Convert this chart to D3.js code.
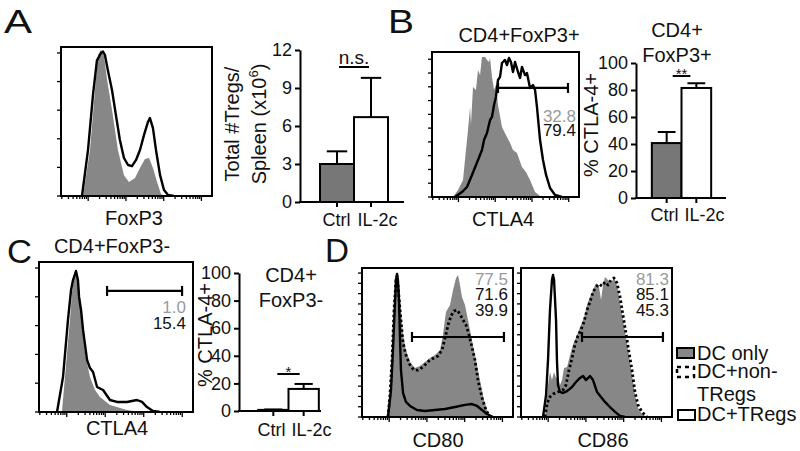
<!DOCTYPE html>
<html><head><meta charset="utf-8">
<script src="https://cdn.jsdelivr.net/npm/d3@7"></script>
<style>
body{margin:0;background:#fff}
svg{display:block}
text{font-family:"Liberation Sans",Arial,Helvetica,sans-serif;fill:#111}
</style>
</head><body><script>
// ---------------- DATA ----------------
const barCats = ["Ctrl", "IL-2c"];
const tregCountVals = [3.0, 6.7];
const tregCountErr = [1.0, 3.1];
const tregCountTicks = [0, 3, 6, 9, 12];
const ctla4PosVals = [40.7, 81.5];
const ctla4PosErr = [8.2, 3.5];
const ctla4NegVals = [0.8, 16.0];
const ctla4NegErr = [0.3, 3.6];
const pctTicks = [0, 20, 40, 60, 80, 100];

// flow histograms: [channel (0-100 of axis), % of max]
const foxp3Ctrl = [[14.6,0],[19.2,30.9],[22.5,71],[24.5,94.6],[26.5,98],[28.5,94],[30.5,78],[33.8,57.7],[37.7,30.9],[41.7,14],[45,9.4],[49,12],[52.3,18.8],[55.6,24.8],[58.3,25.5],[60.9,18.8],[63.6,9.4],[66.2,1.3],[68.9,0]];
const foxp3IL2c = [[13.9,0],[17.9,31],[21.2,68],[23.8,91],[26.5,96],[27.8,97],[29.1,94.6],[31,84.6],[33.8,71],[36.4,54],[39,37.6],[41.7,25.5],[44.4,20.8],[47,20],[49.7,24.2],[52.3,30.9],[55,41],[57.6,49.7],[58.9,52.3],[60.9,45.6],[62.9,30.9],[65.6,14],[68.2,4],[70.9,0.7],[74.8,0]];

const ctla4TregCtrl = [[14.3,0],[17.7,4.8],[21.1,11.7],[23.1,32.4],[24.5,46.2],[25.9,62],[26.5,49.7],[27.9,75.9],[29.9,73.8],[31.3,87.6],[32.7,84.1],[34,96.6],[36.1,96.6],[37.4,94.5],[38.8,93.1],[39.5,95.9],[40.8,82.8],[42.2,73.8],[43.5,77.2],[44.9,63.4],[47.6,48.3],[50.3,42.8],[53.1,37.2],[55.1,32.4],[57.8,30.3],[61.2,20.7],[63.9,17.2],[66.7,11.7],[70.1,3.4],[73.5,0.7],[76.9,0]];
const ctla4TregIL2c = [[15.6,0],[20.4,3.4],[23.8,6.9],[27.2,15.2],[31.3,25.5],[34,32.4],[35.4,39.3],[37.4,44.1],[39.5,53.1],[40.8,55.2],[42.2,63.4],[43.5,69],[44.9,80.7],[46.3,82.8],[47.6,92.4],[49.7,94.5],[51,91],[52.4,95.9],[53.7,93.1],[55.1,86.2],[56.5,93.1],[58.5,86.2],[59.9,82.1],[61.2,89.7],[63.3,84.1],[64.6,85.5],[66.7,75.2],[68.7,77.2],[70.1,73.8],[71.4,62.1],[73.5,39.3],[75.5,25.5],[77.6,15.2],[80.3,6.2],[83.7,1.4],[88.4,0]];

const ctla4ConvCtrl = [[14.9,0],[18.2,39.3],[20.1,61.3],[21.4,79.3],[22.7,89.3],[24,92.7],[25.3,89.3],[26,83.3],[27.9,61.3],[29.9,39.3],[33.1,23.3],[36.4,14.7],[39.6,10],[46.1,4.7],[57.1,1.3],[65.6,0]];
const ctla4ConvIL2c = [[11.7,0],[15.6,23.3],[18.8,61.3],[20.8,81.3],[22.1,88],[24,94],[25.3,88],[26,76.7],[27.3,68],[28.6,54.7],[29.9,44.7],[31.2,34.7],[33.1,29.3],[35.1,26.7],[37.7,16.7],[41.6,14.7],[46.1,8],[50.6,6.7],[57.1,6.7],[63.6,8],[66.9,6.7],[70.1,3.3],[74,0.7],[78.6,0]];

const cd80DCOnly = [[16.6,0],[18.5,18.1],[19.9,38.3],[21.2,71.8],[21.9,83.2],[23.2,94],[24.5,88.6],[25.8,71.8],[27.2,55],[29.1,45],[31.8,36.9],[35.1,32.9],[38.4,34.2],[41.7,36.9],[45,39.6],[48.3,41.6],[51.7,45],[53.6,55],[55.6,70.5],[58.3,75.2],[60.3,85.2],[62.3,93.3],[63.6,95.3],[64.9,88.6],[66.2,80.5],[68.2,75.2],[70.2,65.1],[72.8,51.7],[75.5,38.3],[78.1,24.8],[80.8,11.4],[83.4,2.7],[86.1,0]];
const cd80NonTreg = [[17.2,0],[18.5,14.8],[19.9,38.3],[21.2,71.8],[22.5,91.9],[23.2,94.6],[23.8,88.6],[25.2,71.8],[27.2,49.7],[29.1,41.6],[31.8,34.9],[34.4,31.5],[37.1,31.5],[40.4,33.6],[43,36.2],[45,38.3],[47.7,39.6],[50.3,40.9],[53,45],[55,53],[57,61.7],[58.9,67.8],[60.9,71.1],[62.9,71.8],[64.9,69.1],[66.9,65.1],[68.9,61.7],[70.9,55],[72.8,47],[74.8,38.3],[76.8,24.8],[79.5,12.8],[82.1,4.7],[84.8,0]];
const cd80Treg = [[17.2,0],[19.2,18.1],[20.5,45],[21.9,78.5],[22.5,91.9],[23.2,96],[23.8,91.9],[24.5,78.5],[25.2,51.7],[25.8,31.5],[27.2,16.1],[29.1,10.1],[31.8,7.4],[36.4,4.7],[41.7,4],[48.3,4.7],[55,5.4],[61.6,6.7],[68.2,8.1],[72.8,8.7],[76.2,7.4],[79.5,4.7],[82.8,2],[86.8,0]];

const cd86DCOnly = [[15.9,0],[17.9,21.5],[19.2,30.2],[20.5,24.8],[21.9,30.2],[23.2,26.2],[24.5,26.8],[25.8,21.5],[27.2,24.8],[28.5,32.9],[30.5,33.6],[32.5,41.6],[34.4,48.3],[37.1,55],[39.1,60.4],[41.7,66.4],[43.7,75.2],[45.7,80.5],[47.7,85.2],[49.7,89.9],[51.7,87.2],[53,78.5],[54.3,88.6],[55.6,94],[57.6,91.9],[59.6,89.9],[61.6,93.3],[62.9,90.6],[64.2,85.2],[65.6,76.5],[67.5,65.1],[69.5,53.7],[71.5,41.6],[73.5,28.2],[75.5,14.8],[77.5,6],[80.1,2],[83.4,0]];
const cd86NonTreg = [[15.9,0],[17.2,8.1],[18.5,12.8],[21.2,15.4],[24.5,16.8],[27.8,18.1],[29.8,21.5],[31.8,31.5],[33.8,39.6],[35.8,49],[37.7,54.4],[39.7,58.4],[41.7,63.8],[43.7,71.8],[45.7,77.2],[47.7,83.9],[49.7,87.2],[51.7,89.3],[53.6,87.9],[55.6,90.6],[57.6,88.6],[59.6,91.9],[61.6,93.3],[63.6,89.9],[65.6,80.5],[67.5,68.5],[69.5,56.4],[71.5,43.6],[73.5,31.5],[75.5,16.8],[77.5,8.1],[80.1,3.4],[83.4,0]];
const cd86Treg = [[14.6,0],[16.6,14.8],[17.9,38.3],[19.2,71.8],[20.5,91.9],[21.2,95.3],[21.9,91.9],[23.2,65.1],[23.8,38.3],[24.5,21.5],[25.8,16.8],[27.8,16.1],[30.5,17.4],[33.8,20.1],[36.4,23.5],[39.1,26.2],[41.1,27.5],[43,24.8],[45.7,27.5],[47.7,24.8],[50.3,16.8],[53,13.4],[55.6,10.1],[58.9,6.7],[62.3,3.4],[65.6,0.7],[68.9,0]];

// gates: [start, end, level]
const gateB = [44.9, 92.5, 75.2];
const gateC = [44.2, 92.9, 80.7];
const gateCD80 = [33.1, 94, 53.7];
const gateCD86 = [40.4, 94, 53.7];
// gate percentages
const pctB = ["32.8", "79.4"];
const pctC = ["1.0", "15.4"];
const pctCD80 = ["77.5", "71.6", "39.9"];
const pctCD86 = ["81.3", "85.1", "45.3"];
const legendItems = ["DC only", "DC+non-", "DC+TRegs"];

// axis tick values of flow plots
const yTicks6 = [0, 19.2, 38.4, 57.6, 76.8, 96];
const yTicks11 = [0, 9.5, 19, 28.5, 38, 47.5, 57, 66.5, 76, 85.5, 95];
const yTicks15 = [0, 6.9, 13.8, 20.7, 27.6, 34.5, 41.4, 48.3, 55.2, 62.1, 69, 75.9, 82.8, 89.7, 96.6];
const decadeStarts = [18, 43, 68, 93];
const decadeWidth = 25;

// ---------------- DRAWING ----------------
const GRAY = "#878787", BARGRAY = "#777777", NUMGRAY = "#9a9a9a";
const svg = d3.select("body").append("svg").attr("width", 800).attr("height", 451);
let clipN = 0;

function txt(x, y, s, size, opts = {}) {
  const t = svg.append("text").attr("x", x).attr("y", y).attr("font-size", size).text(s);
  if (opts.anchor) t.attr("text-anchor", opts.anchor);
  if (opts.fill) t.style("fill", opts.fill);
  if (opts.len) t.attr("textLength", opts.len).attr("lengthAdjust", "spacingAndGlyphs");
  return t;
}
function vtxt(x, y, s, size) {
  return svg.append("text").attr("transform", `translate(${x},${y}) rotate(-90)`)
    .attr("text-anchor", "middle").attr("font-size", size).text(s);
}

function flowFrame(f) {
  const x = d3.scaleLinear().domain([0, 100]).range([f.x0, f.x1]);
  const y = d3.scaleLinear().domain([0, 100]).range([f.y1, f.y0]);
  const g = svg.append("g");
  const id = "clip" + (++clipN);
  g.append("clipPath").attr("id", id).append("rect")
    .attr("x", f.x0).attr("y", f.y0).attr("width", f.x1 - f.x0).attr("height", f.y1 - f.y0);
  const inner = g.append("g").attr("clip-path", `url(#${id})`);
  f.series.forEach(s => {
    if (s.kind === "fill") {
      inner.append("path").datum(s.data)
        .attr("d", d3.area().x(d => x(d[0])).y0(y(0)).y1(d => y(d[1])))
        .attr("fill", GRAY);
    } else {
      inner.append("path").datum(s.data)
        .attr("d", d3.line().x(d => x(d[0])).y(d => y(d[1])))
        .attr("fill", "none").attr("stroke", "#000").attr("stroke-width", s.kind === "dot" ? 2.8 : 2.4)
        .attr("stroke-linejoin", "round")
        .attr("stroke-dasharray", s.kind === "dot" ? "2.5,2.5" : null);
    }
  });
  g.append("rect").attr("x", f.x0).attr("y", f.y0).attr("width", f.x1 - f.x0).attr("height", f.y1 - f.y0)
    .attr("fill", "none").attr("stroke", "#000").attr("stroke-width", 2);
  // left ticks
  f.yTicks.forEach(v => g.append("line").attr("x1", f.x0 - 4).attr("x2", f.x0)
    .attr("y1", y(v)).attr("y2", y(v)).attr("stroke", "#000").attr("stroke-width", 1.3));
  // bottom log ticks
  const ticks = [];
  [decadeStarts[0] - decadeWidth, ...decadeStarts].forEach((d, i) => {
    if (i > 0) ticks.push({ v: d, major: true });
    for (let k = 2; k <= 9; k++) ticks.push({ v: d + decadeWidth * Math.log10(k), major: false });
  });
  ticks.filter(t => t.v > 0.5 && t.v < 99.5).forEach(t => g.append("line")
    .attr("x1", x(t.v)).attr("x2", x(t.v)).attr("y1", f.y1).attr("y2", f.y1 + (t.major ? 5 : 3))
    .attr("stroke", "#000").attr("stroke-width", 1.3));
  if (f.gate) {
    const [a, b, l] = f.gate;
    g.append("line").attr("x1", x(a)).attr("x2", x(b)).attr("y1", y(l)).attr("y2", y(l))
      .attr("stroke", "#000").attr("stroke-width", 2.2);
    [a, b].forEach(v => g.append("line").attr("x1", x(v)).attr("x2", x(v))
      .attr("y1", y(l) - 5).attr("y2", y(l) + 5).attr("stroke", "#000").attr("stroke-width", 2.2));
  }
  if (f.nums) {
    f.nums.forEach((n, i) => txt(f.numX, f.numY[i], n, 17, { anchor: "end", fill: i === 0 ? NUMGRAY : "#111" }));
  }
}

function barChart(b) {
  const y = d3.scaleLinear().domain([0, b.max]).range([b.yb, b.yt]);
  const x = d3.scaleBand().domain(barCats).range(b.band).paddingInner(0).paddingOuter(0.5);
  const g = svg.append("g");
  const bw = x.bandwidth();
  b.vals.forEach((v, i) => {
    const cx = x(barCats[i]) + bw / 2;
    // error bar
    g.append("line").attr("x1", cx).attr("x2", cx).attr("y1", y(v)).attr("y2", y(v + b.err[i]))
      .attr("stroke", "#000").attr("stroke-width", 2);
    g.append("line").attr("x1", cx - bw * 0.3).attr("x2", cx + bw * 0.3)
      .attr("y1", y(v + b.err[i])).attr("y2", y(v + b.err[i])).attr("stroke", "#000").attr("stroke-width", 2);
    g.append("rect").attr("x", x(barCats[i])).attr("y", y(v)).attr("width", bw).attr("height", y(0) - y(v))
      .attr("fill", i === 0 ? BARGRAY : "#fff").attr("stroke", "#000").attr("stroke-width", 2);
  });
  const ax = g.append("g").attr("transform", `translate(${b.ax},0)`)
    .call(d3.axisLeft(y).tickValues(b.ticks).tickSize(5).tickSizeOuter(0).tickPadding(3));
  ax.selectAll("path,line").attr("stroke", "#000").attr("stroke-width", 2);
  ax.selectAll("text").attr("font-size", 18).attr("font-family", '"Liberation Sans",Arial,sans-serif').style("fill", "#111");
  // x axis
  g.append("line").attr("x1", b.ax - 1).attr("x2", b.axEnd).attr("y1", y(0)).attr("y2", y(0))
    .attr("stroke", "#000").attr("stroke-width", 2);
  barCats.forEach((c, i) => {
    const cx = x(c) + bw / 2;
    g.append("line").attr("x1", cx).attr("x2", cx).attr("y1", y(0)).attr("y2", y(0) + 5)
      .attr("stroke", "#000").attr("stroke-width", 2);
    txt(i === 0 ? cx + bw * 0.4 : cx - bw * 0.4, b.labelY, c, 18, { anchor: i === 0 ? "end" : "start" });
  });
  // significance
  const sx = x(barCats[0]) + bw / 2, ex = x(barCats[1]) + bw / 2;
  g.append("line").attr("x1", sx + b.sigInset).attr("x2", ex - b.sigInset).attr("y1", b.sigY).attr("y2", b.sigY)
    .attr("stroke", "#000").attr("stroke-width", 2);
  txt((sx + ex) / 2, b.sigY + b.sigDy, b.sig, b.sigSize, { anchor: "middle" });
}

// ----- Panel A -----
txt(4, 33, "A", 33, { len: 28 });
flowFrame({ x0: 61, x1: 212, y0: 47, y1: 196, yTicks: yTicks6,
  series: [{ kind: "fill", data: foxp3Ctrl }, { kind: "line", data: foxp3IL2c }] });
txt(134, 225, "FoxP3", 20, { anchor: "middle" });
barChart({ max: 12, yb: 202, yt: 50, band: [303, 405], ax: 300, axEnd: 404, ticks: tregCountTicks,
  vals: tregCountVals, err: tregCountErr, labelY: 226, sig: "n.s.", sigY: 67, sigDy: -3, sigSize: 19, sigInset: 2 });
vtxt(239, 124, "Total #Tregs/", 20);
const sp = svg.append("text").attr("transform", "translate(266,124) rotate(-90)").attr("text-anchor", "middle").attr("font-size", 20);
sp.append("tspan").text("Spleen (x10");
sp.append("tspan").attr("font-size", 13).attr("dy", -8).text("6");
sp.append("tspan").attr("dy", 8).text(")");

// ----- Panel B -----
txt(388, 33, "B", 33, { len: 26 });
txt(519, 42, "CD4+FoxP3+", 20, { anchor: "middle" });
flowFrame({ x0: 432, x1: 579, y0: 52, y1: 197, yTicks: yTicks11,
  series: [{ kind: "fill", data: ctla4TregCtrl }, { kind: "line", data: ctla4TregIL2c }],
  gate: gateB, nums: pctB, numX: 576, numY: [122, 136] });
txt(503, 226, "CTLA4", 20, { anchor: "middle" });
vtxt(598, 125, "% CTLA-4+", 20);
txt(677, 37, "CD4+", 20, { anchor: "middle" });
txt(677, 62, "FoxP3+", 20, { anchor: "middle" });
barChart({ max: 100, yb: 198, yt: 63, band: [637, 726], ax: 636, axEnd: 726, ticks: pctTicks,
  vals: ctla4PosVals, err: ctla4PosErr, labelY: 221, sig: "**", sigY: 76, sigDy: 3, sigSize: 15, sigInset: 6 });

// ----- Panel C -----
txt(7, 263, "C", 33, { len: 25 });
txt(112, 253, "CD4+FoxP3-", 20, { anchor: "middle" });
flowFrame({ x0: 39, x1: 193, y0: 262, y1: 412, yTicks: yTicks6,
  series: [{ kind: "fill", data: ctla4ConvCtrl }, { kind: "line", data: ctla4ConvIL2c }],
  gate: gateC, nums: pctC, numX: 186, numY: [313, 329] });
txt(117, 435, "CTLA4", 20, { anchor: "middle" });
vtxt(212, 335, "% CTLA-4+", 20);
txt(291, 282, "CD4+", 20, { anchor: "middle" });
txt(291, 307, "FoxP3-", 20, { anchor: "middle" });
barChart({ max: 100, yb: 411, yt: 273, band: [243, 334], ax: 239, axEnd: 321, ticks: pctTicks,
  vals: ctla4NegVals, err: ctla4NegErr, labelY: 436, sig: "*", sigY: 374, sigDy: 3, sigSize: 15, sigInset: 4 });

// ----- Panel D -----
txt(325, 262, "D", 33, { len: 24 });
flowFrame({ x0: 362, x1: 513, y0: 268, y1: 417, yTicks: yTicks15,
  series: [{ kind: "fill", data: cd80DCOnly }, { kind: "line", data: cd80Treg }, { kind: "dot", data: cd80NonTreg }],
  gate: gateCD80, nums: pctCD80, numX: 508, numY: [285, 300, 316] });
flowFrame({ x0: 521, x1: 672, y0: 268, y1: 417, yTicks: yTicks15,
  series: [{ kind: "fill", data: cd86DCOnly }, { kind: "line", data: cd86Treg }, { kind: "dot", data: cd86NonTreg }],
  gate: gateCD86, nums: pctCD86, numX: 669, numY: [285, 300, 316] });
txt(438, 447, "CD80", 20, { anchor: "middle" });
txt(603, 447, "CD86", 20, { anchor: "middle" });

// legend
svg.append("rect").attr("x", 677).attr("y", 348).attr("width", 17).attr("height", 10)
  .attr("fill", GRAY).attr("stroke", "#000").attr("stroke-width", 2);
svg.append("rect").attr("x", 677).attr("y", 367).attr("width", 17).attr("height", 10)
  .attr("fill", "#fff").attr("stroke", "#000").attr("stroke-width", 2.5).attr("stroke-dasharray", "4,4");
svg.append("rect").attr("x", 678).attr("y", 410).attr("width", 17).attr("height", 10)
  .attr("fill", "#fff").attr("stroke", "#000").attr("stroke-width", 2);
txt(697, 360, legendItems[0], 20);
txt(697, 378, legendItems[1], 20);
txt(697, 401, "TRegs", 20);
txt(697, 421, legendItems[2], 20);
</script></body></html>
